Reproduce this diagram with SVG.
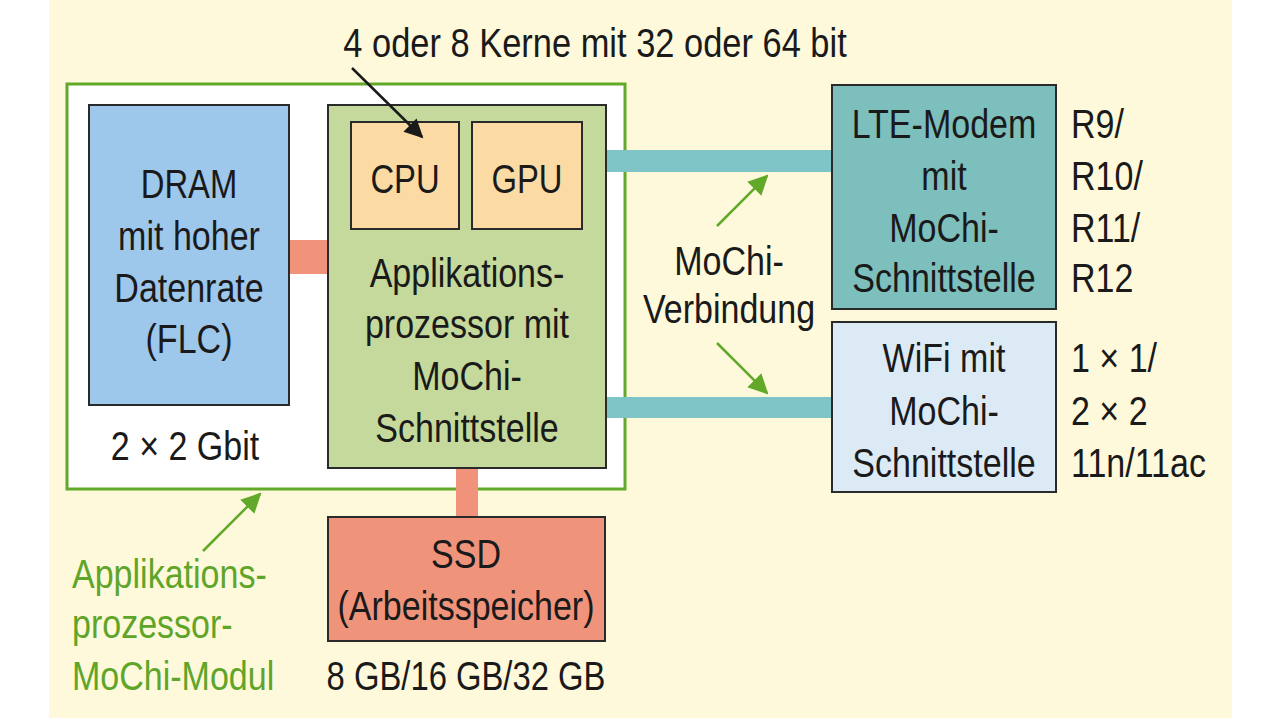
<svg xmlns="http://www.w3.org/2000/svg" width="1280" height="721" viewBox="0 0 1280 721">
<style>
text{font-family:"Liberation Sans",Arial,sans-serif;font-size:41px;fill:#1a1a1a;text-anchor:middle}
.l{text-anchor:start}
.g{fill:#5fa52a}
.box{stroke:#2a2a2a;stroke-width:2}
</style>
<defs>
<marker id="ab" viewBox="0 0 10 10" refX="9" refY="5" markerWidth="9" markerHeight="7.5" orient="auto" markerUnits="strokeWidth"><path d="M0,0 L10,5 L0,10 z" fill="#1a1a1a"/></marker>
<marker id="ag" viewBox="0 0 10 10" refX="9" refY="5" markerWidth="8" markerHeight="8" orient="auto" markerUnits="strokeWidth"><path d="M0,0 L10,5 L0,10 z" fill="#62a829"/></marker>
</defs>
<rect x="0" y="0" width="1280" height="721" fill="#ffffff"/>
<rect x="49" y="0" width="1183" height="718" fill="#fef9da"/>
<g id="module">
<rect x="67" y="84" width="558" height="405" fill="#ffffff" stroke="#62a829" stroke-width="3"/>
</g>
<g id="connectors">
<rect x="289" y="240" width="38" height="34" fill="#f0937a"/>
<rect x="606" y="150" width="226" height="22" fill="#7fc4c6"/>
<rect x="606" y="397" width="226" height="21" fill="#7fc4c6"/>
<rect x="456" y="468" width="22" height="49" fill="#f0937a"/>
<line x1="717" y1="226" x2="767" y2="176" stroke="#62a829" stroke-width="2.5" marker-end="url(#ag)"/>
<line x1="717" y1="343" x2="767" y2="393" stroke="#62a829" stroke-width="2.5" marker-end="url(#ag)"/>
<line x1="203" y1="551" x2="260" y2="494" stroke="#62a829" stroke-width="2.5" marker-end="url(#ag)"/>
</g>
<g id="dram">
<rect class="box" x="89" y="105" width="200" height="300" fill="#9ec7ec"/>
<text transform="translate(189 198) scale(0.8 1)">DRAM</text>
<text transform="translate(189 250) scale(0.83 1)">mit hoher</text>
<text transform="translate(189 302) scale(0.83 1)">Datenrate</text>
<text transform="translate(189 353) scale(0.83 1)">(FLC)</text>
</g>
<text transform="translate(185 460) scale(0.83 1)">2 × 2 Gbit</text>
<g id="app">
<rect class="box" x="328" y="105" width="278" height="363" fill="#c4d99b"/>
<text transform="translate(467 287) scale(0.83 1)">Applikations-</text>
<text transform="translate(467 338) scale(0.83 1)">prozessor mit</text>
<text transform="translate(467 390) scale(0.83 1)">MoChi-</text>
<text transform="translate(467 442) scale(0.83 1)">Schnittstelle</text>
</g>
<g id="cpu">
<rect class="box" x="351" y="122" width="108" height="107" fill="#fcdaa4"/>
<text transform="translate(405 193) scale(0.8 1)">CPU</text>
</g>
<g id="gpu">
<rect class="box" x="472" y="122" width="110" height="107" fill="#fcdaa4"/>
<text transform="translate(527 193) scale(0.8 1)">GPU</text>
</g>
<g id="cores-label">
<text transform="translate(595 57) scale(0.84 1)">4 oder 8 Kerne mit 32 oder 64 bit</text>
<line x1="352" y1="68" x2="422" y2="137" stroke="#1a1a1a" stroke-width="2.5" marker-end="url(#ab)"/>
</g>
<g id="lte">
<rect class="box" x="832" y="85" width="224" height="224" fill="#7dbfbc"/>
<text transform="translate(944 138) scale(0.83 1)">LTE-Modem</text>
<text transform="translate(944 190) scale(0.83 1)">mit</text>
<text transform="translate(944 242) scale(0.83 1)">MoChi-</text>
<text transform="translate(944 292) scale(0.83 1)">Schnittstelle</text>
</g>
<g id="lte-spec">
<text class="l" transform="translate(1071 138) scale(0.83 1)">R9/</text>
<text class="l" transform="translate(1071 190) scale(0.83 1)">R10/</text>
<text class="l" transform="translate(1071 242) scale(0.83 1)">R11/</text>
<text class="l" transform="translate(1071 292) scale(0.83 1)">R12</text>
</g>
<g id="wifi">
<rect class="box" x="832" y="322" width="224" height="170" fill="#dceaf6"/>
<text transform="translate(944 372) scale(0.83 1)">WiFi mit</text>
<text transform="translate(944 425) scale(0.83 1)">MoChi-</text>
<text transform="translate(944 477) scale(0.83 1)">Schnittstelle</text>
</g>
<g id="wifi-spec">
<text class="l" transform="translate(1071 372) scale(0.83 1)">1 × 1/</text>
<text class="l" transform="translate(1071 425) scale(0.83 1)">2 × 2</text>
<text class="l" transform="translate(1071 477) scale(0.83 1)">11n/11ac</text>
</g>
<g id="mochi-label">
<text transform="translate(729 275) scale(0.83 1)">MoChi-</text>
<text transform="translate(729 323) scale(0.83 1)">Verbindung</text>
</g>
<g id="ssd">
<rect class="box" x="328" y="517" width="277" height="124" fill="#f0937b"/>
<text transform="translate(466 568) scale(0.83 1)">SSD</text>
<text transform="translate(466 620) scale(0.83 1)">(Arbeitsspeicher)</text>
</g>
<text transform="translate(466 690) scale(0.8 1)">8 GB/16 GB/32 GB</text>
<g id="module-label">
<text class="l g" transform="translate(72 588) scale(0.83 1)">Applikations-</text>
<text class="l g" transform="translate(72 638) scale(0.83 1)">prozessor-</text>
<text class="l g" transform="translate(72 690) scale(0.83 1)">MoChi-Modul</text>
</g>
</svg>
